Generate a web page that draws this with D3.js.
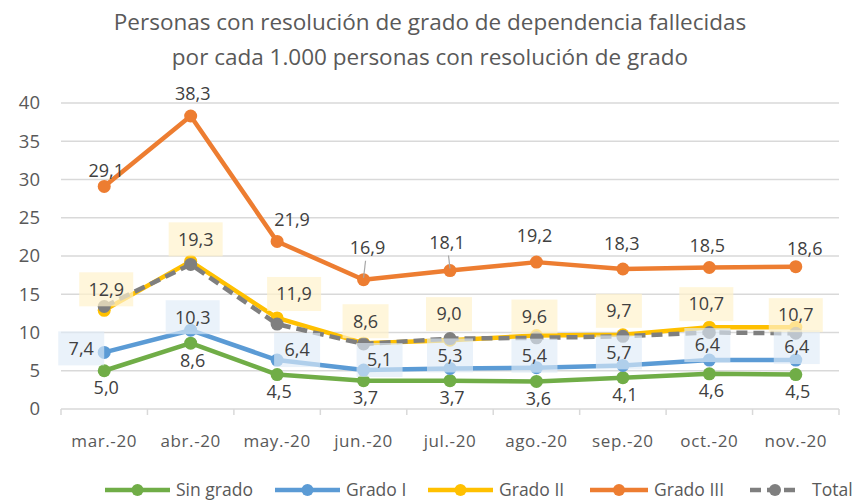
<!DOCTYPE html>
<html lang="es">
<head>
<meta charset="utf-8">
<title>Personas con resolución de grado fallecidas</title>
<script src="https://cdn.jsdelivr.net/npm/d3@7"></script>
<style>
  body { margin: 0; background: #fff; }
  text { font-family: "Open Sans", sans-serif; }
</style>
</head>
<body>
<script>
// data
const months = ["mar.-20", "abr.-20", "may.-20", "jun.-20", "jul.-20", "ago.-20", "sep.-20", "oct.-20", "nov.-20"];
const sinGrado = [5.0, 8.6, 4.5, 3.7, 3.7, 3.6, 4.1, 4.6, 4.5];
const gradoI   = [7.4, 10.3, 6.4, 5.1, 5.3, 5.4, 5.7, 6.4, 6.4];
const gradoII  = [12.9, 19.3, 11.9, 8.6, 9.0, 9.6, 9.7, 10.7, 10.7];
const gradoIII = [29.1, 38.3, 21.9, 16.9, 18.1, 19.2, 18.3, 18.5, 18.6];
const total    = [13.4, 18.9, 11.1, 8.5, 9.2, 9.3, 9.5, 10.0, 9.9];
const yTicks = [0, 5, 10, 15, 20, 25, 30, 35, 40];
const titleLines = ["Personas con resolución de grado de dependencia fallecidas",
                    "por cada 1.000  personas con resolución de grado"];

// label offsets (layout only)
const offSin  = months.map(() => [2, 17]);
const offI    = [[-23, -4], [2, -13], [20, -10], [16, -10], [0, -13], [-2, -12], [-4, -13], [-2, -15], [1, -13]];
const offII   = [[2, -21], [5, -22], [17, -24], [2, -22], [-1, -26], [-2, -19], [-4, -24], [-3, -23], [0, -12]];
const offIII  = [[2, -16], [2, -22], [15, -22], [4, -32], [-3, -28], [-2, -26], [-1, -25], [-2, -22], [9, -18]];

const series = [
  {name: "Sin grado", values: sinGrado, color: "#70ad47", off: offSin,  box: null},
  {name: "Grado I",   values: gradoI,   color: "#5b9bd5", off: offI,    box: "rgba(222,235,247,0.65)"},
  {name: "Grado II",  values: gradoII,  color: "#ffc000", off: offII,   box: "rgba(255,242,204,0.7)"},
  {name: "Grado III", values: gradoIII, color: "#ed7d31", off: offIII,  box: null},
  {name: "Total",     values: total,    color: "#7f7f7f", off: null,    box: null, dash: true}
];

const W = 861, H = 503;
const m = {left: 61, right: 22, top: 103, bottom: 94};

const svg = d3.select("body").append("svg").attr("width", W).attr("height", H);

const x = d3.scaleBand().domain(months).range([m.left, W - m.right]);
const y = d3.scaleLinear().domain([0, 40]).range([H - m.bottom, m.top]);
const cx = i => x(months[i]) + x.bandwidth() / 2;

// title
svg.append("text")
  .attr("x", 430).attr("y", 30)
  .attr("text-anchor", "middle")
  .attr("font-size", 22.5).attr("fill", "#595959")
  .selectAll("tspan").data(titleLines).join("tspan")
  .attr("x", 430).attr("dy", (d, i) => i ? 35 : 0)
  .text(d => d);

// grid
svg.append("g").selectAll("line").data(yTicks.filter(t => t > 0)).join("line")
  .attr("x1", m.left).attr("x2", W - m.right)
  .attr("y1", d => y(d)).attr("y2", d => y(d))
  .attr("stroke", "#d9d9d9").attr("stroke-width", 1.5);

// y axis labels
svg.append("g").selectAll("text").data(yTicks).join("text")
  .attr("x", 40).attr("y", d => y(d)).attr("dy", "0.35em")
  .attr("text-anchor", "end").attr("font-size", 18.5).attr("fill", "#595959")
  .text(d => d);

// x axis
const xAxis = svg.append("g").attr("transform", `translate(0,${y(0)})`);
xAxis.append("line").attr("x1", m.left).attr("x2", W - m.right)
  .attr("stroke", "#d9d9d9").attr("stroke-width", 1.5);
xAxis.selectAll("line.tk").data(d3.range(months.length + 1)).join("line")
  .attr("class", "tk")
  .attr("x1", i => m.left + i * x.step()).attr("x2", i => m.left + i * x.step())
  .attr("y1", 0).attr("y2", 6)
  .attr("stroke", "#d9d9d9").attr("stroke-width", 1.5);
xAxis.selectAll("text").data(months).join("text")
  .attr("x", d => x(d) + x.bandwidth() / 2).attr("y", 38)
  .attr("text-anchor", "middle").attr("font-size", 17).attr("fill", "#595959")
  .attr("letter-spacing", 0.6)
  .text(d => d);

// lines
const line = d3.line().x((d, i) => cx(i)).y(d => y(d));
series.forEach(s => {
  const g = svg.append("g");
  g.append("path").datum(s.values)
    .attr("d", line).attr("fill", "none")
    .attr("stroke", s.color).attr("stroke-width", 4.5)
    .attr("stroke-linejoin", "round")
    .attr("stroke-dasharray", s.dash ? "11,6" : null);
  g.selectAll("circle").data(s.values).join("circle")
    .attr("cx", (d, i) => cx(i)).attr("cy", d => y(d)).attr("r", 6.5)
    .attr("fill", s.color);
});

// leader lines for Grado III at jun/jul
[3, 4].forEach(i => {
  const px = cx(i), py = y(gradoIII[i]);
  const o = offIII[i];
  svg.append("line")
    .attr("x1", px + o[0] * 0.5).attr("y1", py + o[1] + 13)
    .attr("x2", px).attr("y2", py - 2)
    .attr("stroke", "#a6a6a6").attr("stroke-width", 1.2);
});

// data labels
const fmt = v => v.toFixed(1).replace(".", ",");
series.filter(s => s.off).forEach(s => {
  const g = svg.append("g");
  s.values.forEach((v, i) => {
    const lx = cx(i) + s.off[i][0], ly = y(v) + s.off[i][1];
    if (s.box) {
      const bw = v >= 10 ? 54 : 46;
      g.append("rect")
        .attr("x", lx - bw / 2).attr("y", ly - 17)
        .attr("width", bw).attr("height", 34)
        .attr("fill", s.box);
    }
    g.append("text")
      .attr("x", lx).attr("y", ly).attr("dy", "0.35em")
      .attr("text-anchor", "middle").attr("font-size", 18).attr("fill", "#404040")
      .text(fmt(v));
  });
});

// legend
const legX = [[105, 170], [275, 340], [428, 493], [590, 648], [750, 800]];
const legY = 490;
const leg = svg.append("g");
series.forEach((s, k) => {
  const [a, b] = legX[k];
  leg.append("line").attr("x1", a).attr("x2", b).attr("y1", legY).attr("y2", legY)
    .attr("stroke", s.color).attr("stroke-width", 4.5)
    .attr("stroke-dasharray", s.dash ? "11,6" : null);
  leg.append("circle").attr("cx", (a + b) / 2).attr("cy", legY).attr("r", 6).attr("fill", s.color);
  leg.append("text").attr("x", b + (s.dash ? 12 : 6)).attr("y", legY).attr("dy", "0.35em")
    .attr("font-size", 17.5).attr("fill", "#595959").text(s.name);
});
</script>
</body>
</html>
